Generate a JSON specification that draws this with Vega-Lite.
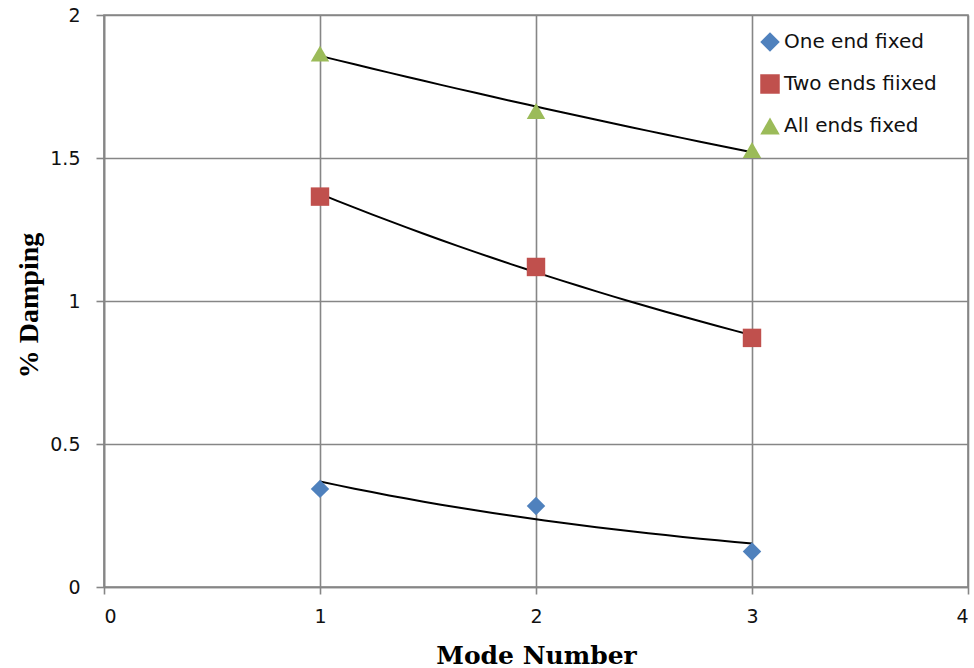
{
  "$schema": "https://vega.github.io/schema/vega-lite/v6.json",
  "width": 864,
  "height": 572,
  "autosize": {"type": "none"},
  "padding": {"left": 104, "top": 15, "right": 6, "bottom": 81},
  "background": "white",
  "config": {
    "view": {"stroke": "#868686", "strokeWidth": 1.6},
    "axis": {
      "grid": true,
      "gridColor": "#868686",
      "gridWidth": 1.6,
      "domainColor": "#868686",
      "domainWidth": 1.6,
      "tickColor": "#868686",
      "tickWidth": 1.6,
      "labelFont": "DejaVu Sans",
      "labelFontSize": 19,
      "labelColor": "#111111",
      "titleColor": "#000000"
    },
    "legend": {
      "orient": "none",
      "legendX": 656,
      "legendY": 17,
      "padding": 0,
      "labelFont": "DejaVu Sans",
      "labelFontSize": 20,
      "labelColor": "#111111",
      "labelOffset": 4,
      "symbolSize": 380,
      "rowPadding": 22,
      "symbolStrokeWidth": 0,
      "symbolOpacity": 1
    }
  },
  "data": {
    "values": [
      {"mode": 1, "damping": 0.343, "series": "One end fixed"},
      {"mode": 2, "damping": 0.283, "series": "One end fixed"},
      {"mode": 3, "damping": 0.124, "series": "One end fixed"},
      {"mode": 1, "damping": 1.365, "series": "Two ends fiixed"},
      {"mode": 2, "damping": 1.119, "series": "Two ends fiixed"},
      {"mode": 3, "damping": 0.871, "series": "Two ends fiixed"},
      {"mode": 1, "damping": 1.865, "series": "All ends fixed"},
      {"mode": 2, "damping": 1.664, "series": "All ends fixed"},
      {"mode": 3, "damping": 1.528, "series": "All ends fixed"}
    ]
  },
  "encoding": {
    "x": {
      "field": "mode",
      "type": "quantitative",
      "scale": {"domain": [0, 4], "nice": false},
      "axis": {
        "values": [0, 1, 2, 3, 4],
        "format": "d",
        "tickSize": 7,
        "labelPadding": 13,
        "title": "Mode Number",
        "titleFont": "DejaVu Serif",
        "titleFontSize": 25,
        "titleFontWeight": "bold",
        "titleX": 432,
        "titleY": 76,
        "titleAlign": "center",
        "titleBaseline": "alphabetic"
      }
    },
    "y": {
      "field": "damping",
      "type": "quantitative",
      "scale": {"domain": [0, 2], "nice": false},
      "axis": {
        "values": [0, 0.5, 1, 1.5, 2],
        "format": ".1~f",
        "tickSize": 8,
        "labelPadding": 16,
        "title": "% Damping",
        "titleFont": "Liberation Serif",
        "titleFontSize": 28,
        "titleFontWeight": "bold",
        "titleAngle": -90,
        "titleX": -67,
        "titleY": 290,
        "titleAlign": "center",
        "titleBaseline": "alphabetic"
      }
    }
  },
  "layer": [
    {
      "transform": [
        {"regression": "damping", "on": "mode", "groupby": ["series"], "method": "exp", "extent": [1, 3]}
      ],
      "mark": {"type": "line", "color": "#000000", "strokeWidth": 2},
      "encoding": {
        "detail": {"field": "series", "type": "nominal"}
      }
    },
    {
      "mark": {"type": "point", "filled": true, "opacity": 1, "size": 340, "strokeWidth": 0},
      "encoding": {
        "color": {
          "field": "series",
          "type": "nominal",
          "scale": {
            "domain": ["One end fixed", "Two ends fiixed", "All ends fixed"],
            "range": ["#4f81bd", "#c0504d", "#9bbb59"]
          },
          "legend": {"title": null}
        },
        "shape": {
          "field": "series",
          "type": "nominal",
          "scale": {
            "domain": ["One end fixed", "Two ends fiixed", "All ends fixed"],
            "range": ["diamond", "square", "triangle-up"]
          },
          "legend": {"title": null}
        }
      }
    }
  ]
}
